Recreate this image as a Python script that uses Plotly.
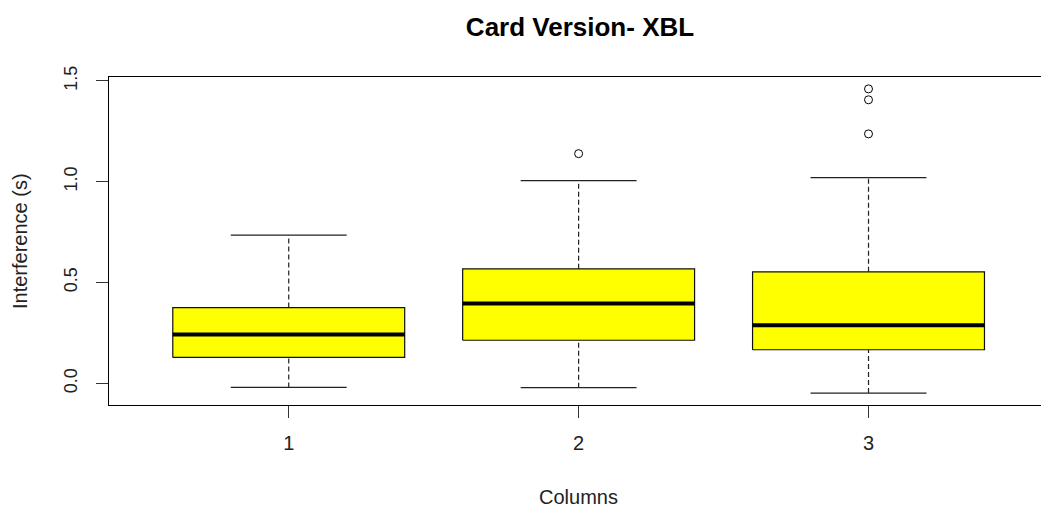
import plotly.graph_objects as go

# ---- data ----
categories = [1, 2, 3]
tick_labels = ["1", "2", "3"]
lower_whisker = [-0.020, -0.021, -0.048]
q1 = [0.129, 0.214, 0.167]
median = [0.242, 0.396, 0.288]
q3 = [0.376, 0.568, 0.553]
upper_whisker = [0.735, 1.005, 1.020]
outlier_x = [2, 3, 3, 3]
outlier_y = [1.139, 1.237, 1.406, 1.460]

BOX_HALF = 0.4
CAP_HALF = 0.2
FONT = "Liberation Sans, Arial, sans-serif"

fig = go.Figure()

# whiskers (dashed)
wx, wy = [], []
for c, lo, a, b, hi in zip(categories, lower_whisker, q1, q3, upper_whisker):
    wx += [c, c, None, c, c, None]
    wy += [lo, a, None, b, hi, None]
fig.add_trace(go.Scatter(x=wx, y=wy, mode="lines", hoverinfo="skip",
                         line=dict(color="#222222", width=1.2, dash="5px,3px"),
                         showlegend=False))

# caps
cx, cy = [], []
for c, lo, hi in zip(categories, lower_whisker, upper_whisker):
    cx += [c - CAP_HALF, c + CAP_HALF, None, c - CAP_HALF, c + CAP_HALF, None]
    cy += [lo, lo, None, hi, hi, None]
fig.add_trace(go.Scatter(x=cx, y=cy, mode="lines", hoverinfo="skip",
                         line=dict(color="#222222", width=1.2), showlegend=False))

# boxes
for c, a, b in zip(categories, q1, q3):
    fig.add_trace(go.Scatter(
        x=[c - BOX_HALF, c + BOX_HALF, c + BOX_HALF, c - BOX_HALF, c - BOX_HALF],
        y=[a, a, b, b, a], mode="lines", fill="toself", fillcolor="#ffff00",
        line=dict(color="#111111", width=1.2), hoverinfo="skip", showlegend=False))

# medians
mx, my = [], []
for c, m in zip(categories, median):
    mx += [c - BOX_HALF, c + BOX_HALF, None]
    my += [m, m, None]
fig.add_trace(go.Scatter(x=mx, y=my, mode="lines", hoverinfo="skip",
                         line=dict(color="black", width=4), showlegend=False))

# outliers
fig.add_trace(go.Scatter(x=outlier_x, y=outlier_y, mode="markers",
                         marker=dict(symbol="circle-open", size=8,
                                     color="black", line=dict(width=1)),
                         showlegend=False))

fig.update_layout(
    width=1041, height=508,
    margin=dict(l=109, r=0, t=77, b=103),
    paper_bgcolor="white", plot_bgcolor="white",
    font=dict(family=FONT, color="black"),
    title=dict(text="<b>Card Version- XBL</b>", font=dict(size=26, family=FONT),
               x=580 / 1041, xref="container", xanchor="center",
               y=1 - 27 / 508, yref="container", yanchor="middle"),
    xaxis=dict(range=[0.38, 3.595], tickvals=categories, ticktext=tick_labels,
               ticks="outside", ticklen=12, tickcolor="#333333", tickwidth=1,
               showline=True, linecolor="black", linewidth=1, mirror=True,
               showgrid=False, zeroline=False,
               tickfont=dict(size=20, color="#222222"), ticklabelstandoff=8),
    yaxis=dict(range=[-0.107, 1.519], tickvals=[0, 0.5, 1.0, 1.5],
               ticktext=["0.0", "0.5", "1.0", "1.5"], tickangle=-90,
               ticks="outside", ticklen=12, tickcolor="#333333", tickwidth=1,
               showline=True, linecolor="black", linewidth=1,
               showgrid=False, zeroline=False,
               tickfont=dict(size=18, color="#222222"), ticklabelstandoff=12),
    annotations=[
        dict(text="Columns", xref="x", x=2, yref="paper", y=0,
             yanchor="middle", yshift=-92, showarrow=False,
             font=dict(size=20, family=FONT, color="#222222")),
        dict(text="Interference (s)", xref="paper", x=0, xanchor="center",
             xshift=-89, yref="paper", y=0.5, yanchor="middle", textangle=-90,
             showarrow=False, font=dict(size=20, family=FONT, color="#222222")),
    ],
)

fig.write_html(
    "out.html",
    config={"displayModeBar": False},
    post_script="document.body.style.margin='0';document.body.style.overflow='hidden';",
)
